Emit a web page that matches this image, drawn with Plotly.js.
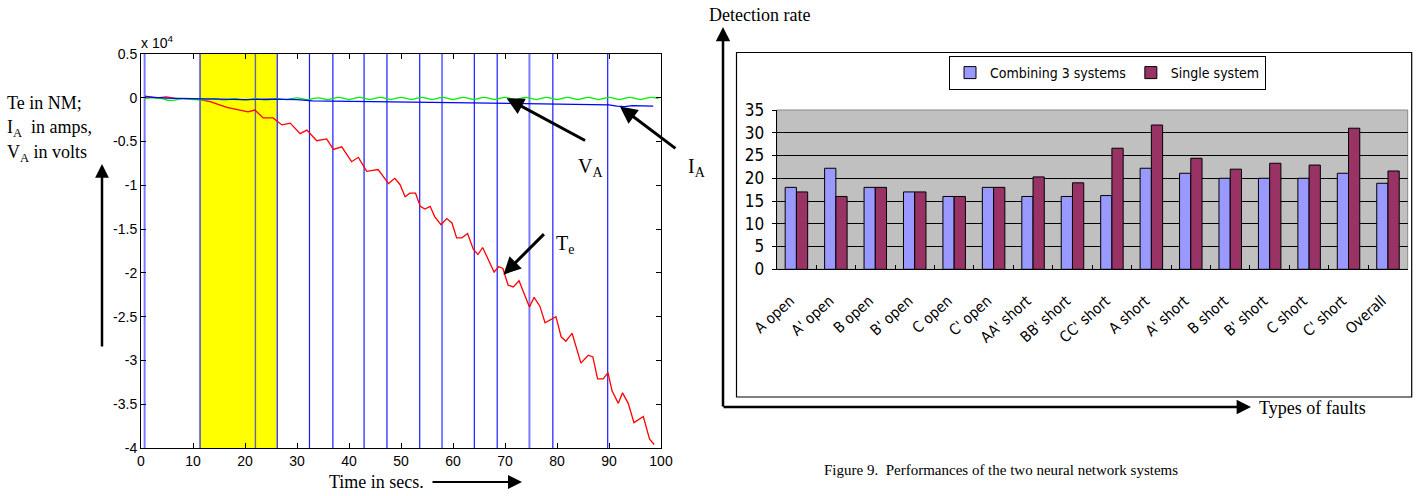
<!DOCTYPE html>
<html>
<head>
<meta charset="utf-8">
<script src="https://cdn.plot.ly/plotly-3.0.1.min.js"></script>
<style>html,body{margin:0;padding:0;background:#fff;}#chart{width:1421px;height:496px;}</style>
</head>
<body>
<div id="chart"></div>
<script>
// ---------- Left chart data (values in units of 10^4) ----------
const teX = [0.8,3.0,4.9,6.9,9.4,11.3,13.3,16.5,20.6,21.9,23.5,25.4,27.1,28.7,30.6,31.9,33.8,35.7,37.0,38.6,40.5,41.8,43.4,45.6,47.6,48.8,49.8,50.8,51.7,52.8,53.7,54.6,55.6,56.5,57.7,58.8,59.8,60.7,61.7,62.8,63.9,64.8,65.7,67.9,68.8,69.6,70.6,71.6,72.7,74.7,75.6,76.7,77.7,79.8,80.8,81.7,82.9,84.6,86.0,86.9,87.8,88.9,89.8,90.6,91.8,92.6,93.7,94.8,96.6,97.8,98.7];
const teY = [0.02,0.0,0.01,-0.01,-0.01,-0.02,-0.045,-0.11,-0.16,-0.14,-0.23,-0.23,-0.31,-0.29,-0.41,-0.37,-0.49,-0.47,-0.59,-0.56,-0.73,-0.68,-0.84,-0.82,-0.98,-0.92,-0.99,-1.13,-1.09,-1.09,-1.24,-1.27,-1.24,-1.36,-1.45,-1.38,-1.43,-1.60,-1.60,-1.55,-1.73,-1.79,-1.71,-1.99,-1.93,-1.95,-2.14,-2.16,-2.09,-2.39,-2.28,-2.38,-2.57,-2.50,-2.73,-2.78,-2.69,-3.03,-2.94,-2.96,-3.21,-3.21,-3.14,-3.35,-3.49,-3.37,-3.49,-3.71,-3.64,-3.90,-3.96];

const vaX = [0.8,2,4,5.5,7,8,10,12,14,16,18,20,22,24,26,28,30,32,34,36,38,40,42,44,46,48,50,52,54,56,58,60,62,64,66,68,70,72,74,76,78,80,82,84,86,88,90,92,94,96,98,99.5];
const vaY = [-0.01,0.0,-0.01,-0.03,-0.02,-0.01,-0.02,-0.025,-0.01,-0.025,-0.01,-0.025,-0.01,-0.025,-0.01,-0.02,0.0,-0.02,0.0,-0.02,0.005,-0.02,0.005,-0.02,0.005,-0.02,0.005,-0.02,0.005,-0.02,0.005,-0.02,0.005,-0.02,0.005,-0.02,0.005,-0.02,0.005,-0.02,0.005,-0.02,0.005,-0.02,0.005,-0.02,0.005,-0.02,0.005,-0.02,0.005,-0.01];

const iaX = [0.8,5,10,15,20,25,30,33,40,45,50,55,60,65,70,75,80,85,90,91.5,93,94.5,96,98.5];
const iaY = [0.01,-0.005,-0.01,-0.015,-0.02,-0.015,-0.02,-0.035,-0.04,-0.04,-0.045,-0.05,-0.055,-0.06,-0.065,-0.065,-0.07,-0.075,-0.08,-0.095,-0.1,-0.09,-0.095,-0.095];

const eventTimes = [0.7,11.35,22.0,26.2,32.4,36.9,42.9,47.3,53.6,57.9,64.1,68.5,74.7,79.2,89.75];
const faultStart = 11.35, faultEnd = 26.2;

const xTickVals = [0,10,20,30,40,50,60,70,80,90,100];
const yTickVals = [0.5,0,-0.5,-1,-1.5,-2,-2.5,-3,-3.5,-4];
const yTickLabels = ['0.5','0','-0.5','-1','-1.5','-2','-2.5','-3','-3.5','-4'];

// ---------- Right chart data ----------
const faultTypes = ["A open","A' open","B open","B' open","C open","C' open","AA' short","BB' short","CC' short","A short","A' short","B short","B' short","C short","C' short","Overall"];
const combinedRate = [18,22.2,18,17,16,18,16,16,16.2,22.2,21.1,20,20,20,21.1,18.9];
const singleRate = [17,16,18,17,16,18,20.3,19,26.6,31.7,24.4,22,23.3,22.9,31,21.6];

// ---------- Layout helpers ----------
const W = 1421, H = 496;
const px = v => v / W;
const py = v => 1 - v / H;
const serif = 'Liberation Serif, Times New Roman, serif';
const sans = 'Liberation Sans, Arial, sans-serif';
const narrow = 'DejaVu Sans Condensed, Liberation Sans Narrow, Arial Narrow, sans-serif';

const traces = [
  {x: teX, y: teY, type: 'scatter', mode: 'lines', line: {color: '#ff0000', width: 1.3}, xaxis: 'x', yaxis: 'y', showlegend: false},
  {x: vaX, y: vaY, type: 'scatter', mode: 'lines', line: {color: '#00ee00', width: 1.3, shape: 'spline'}, xaxis: 'x', yaxis: 'y', showlegend: false},
  {x: iaX, y: iaY, type: 'scatter', mode: 'lines', line: {color: '#0000ff', width: 1.3}, xaxis: 'x', yaxis: 'y', showlegend: false},
  {x: faultTypes, y: combinedRate, type: 'bar', name: 'Combining 3 systems', marker: {color: '#9999ff', line: {color: '#000', width: 1}}, xaxis: 'x2', yaxis: 'y2'},
  {x: faultTypes, y: singleRate, type: 'bar', name: 'Single system', marker: {color: '#993366', line: {color: '#000', width: 1}}, xaxis: 'x2', yaxis: 'y2'}
];

const shapes = [];
shapes.push({type: 'rect', xref: 'x', yref: 'y domain', x0: faultStart, x1: faultEnd, y0: 0, y1: 1, fillcolor: '#ffff00', line: {width: 0}, layer: 'below'});
const lightIdx = [0, 9, 12];
eventTimes.forEach((t, i) => {
  let color = '#1a1aff', width = 1.2;
  if (lightIdx.includes(i)) { color = '#7b7bff'; width = 2; }
  if (i === 2) { color = '#6a6a9a'; width = 1.4; }
  shapes.push({type: 'line', xref: 'x', yref: 'y domain', x0: t, x1: t, y0: 0, y1: 1, line: {color: color, width: width}, layer: 'below'});
});
// gray plot background for bar chart
shapes.push({type: 'rect', xref: 'x2 domain', yref: 'y2 domain', x0: 0, x1: 1, y0: 0, y1: 1, fillcolor: '#c0c0c0', line: {color: '#888', width: 1}, layer: 'below'});
// frame of bar chart
shapes.push({type: 'rect', xref: 'paper', yref: 'paper', x0: px(736.5), x1: px(1411.7), y0: py(397), y1: py(52.5), line: {color: '#000', width: 1.2}, fillcolor: 'rgba(0,0,0,0)'});

function arrowPaper(tipX, tipY, tailX, tailY, w, s) {
  return {xref: 'paper', yref: 'paper', x: px(tipX), y: py(tipY), ax: tailX - tipX, ay: tailY - tipY,
          text: '', showarrow: true, arrowhead: 2, arrowsize: s, arrowwidth: w, arrowcolor: '#000', standoff: 0};
}
function arrowData(x, y, ax, ay) {
  return {xref: 'x', yref: 'y', x: x, y: y, ax: ax, ay: ay, text: '', showarrow: true,
          arrowhead: 2, arrowsize: 1.15, arrowwidth: 3, arrowcolor: '#000', standoff: 0};
}
function label(text, x, y, size, family, xanchor) {
  return {xref: 'paper', yref: 'paper', x: px(x), y: py(y), text: text, showarrow: false,
          xanchor: xanchor || 'left', yanchor: 'middle', font: {family: family || serif, size: size || 18, color: '#000'}};
}

const annotations = [
  label('x 10<sup>4</sup>', 139, 42, 14, sans),
  label('Te in NM;', 5, 103, 18),
  label('I<sub>A</sub>  in amps,', 5, 128, 18),
  label('V<sub>A</sub> in volts', 5, 153, 18),
  arrowPaper(102, 164, 102, 348, 2.5, 1.1),
  label('Time in secs.', 426, 482, 18, serif, 'right'),
  arrowPaper(522, 482, 431, 482, 2, 1.4),
  label('V<sub>A</sub>', 576, 167, 20),
  label('I<sub>A</sub>', 686, 168, 20),
  label('T<sub>e</sub>', 554, 244, 20),
  arrowData(70.3, -0.006, 80, 43),
  arrowData(92.1, -0.10, 57, 43),
  arrowData(69.7, -2.02, 42, -42),
  label('Detection rate', 707, 15, 18),
  arrowPaper(723, 27, 723, 408, 2.5, 1.15),
  arrowPaper(1251, 407, 722, 407, 2.5, 1.15),
  label('Types of faults', 1257, 408, 18),
  label('Figure 9.  Performances of the two neural network systems', 1001, 470, 15, serif, 'center')
];

const layout = {
  width: W, height: H,
  margin: {l: 0, r: 0, t: 0, b: 0},
  paper_bgcolor: '#ffffff', plot_bgcolor: 'rgba(0,0,0,0)',
  showlegend: true,
  barmode: 'group', bargap: 0.43, bargroupgap: 0,
  font: {family: sans, color: '#000'},
  xaxis: {domain: [px(141), px(661)], range: [0, 100], tickvals: xTickVals, ticks: 'inside', ticklen: 5, tickcolor: '#000',
          showline: true, linecolor: '#000', linewidth: 1, mirror: 'ticks', showgrid: false, zeroline: false,
          tickfont: {family: sans, size: 14, color: '#000'}, anchor: 'y'},
  yaxis: {domain: [py(448), py(54)], range: [-4, 0.5], tickvals: yTickVals, ticktext: yTickLabels, ticks: 'inside', ticklen: 5, tickcolor: '#000',
          showline: true, linecolor: '#000', linewidth: 1, mirror: 'ticks', showgrid: false, zeroline: false,
          tickfont: {family: sans, size: 14, color: '#000'}, anchor: 'x'},
  xaxis2: {domain: [px(776.7), px(1407.7)], type: 'category', range: [-0.5, 15.5], tickangle: -42, ticks: 'inside', tickson: 'boundaries',
           ticklen: 4, tickcolor: '#000', showline: true, linecolor: '#000', linewidth: 1, showgrid: false, zeroline: false,
           ticklabelstandoff: 16, ticklabelshift: -6,
           tickfont: {family: narrow, size: 15, color: '#000'}, anchor: 'y2'},
  yaxis2: {domain: [py(269.3), py(110)], range: [0, 35], dtick: 5, ticks: 'outside', ticklen: 4, tickcolor: '#000',
           showline: true, linecolor: '#000', linewidth: 1, showgrid: true, gridcolor: '#000', gridwidth: 1, zeroline: false,
           ticklabelstandoff: 4,
           tickfont: {family: narrow, size: 17, color: '#000'}, anchor: 'x2'},
  legend: {orientation: 'h', x: px(949), y: py(56), xanchor: 'left', yanchor: 'top', bgcolor: '#fff', bordercolor: '#000', borderwidth: 1,
           font: {family: narrow, size: 14, color: '#000'}, itemwidth: 30, traceorder: 'normal'},
  shapes: shapes,
  annotations: annotations
};

Plotly.newPlot('chart', traces, layout, {staticPlot: true, displayModeBar: false});
</script>
</body>
</html>
